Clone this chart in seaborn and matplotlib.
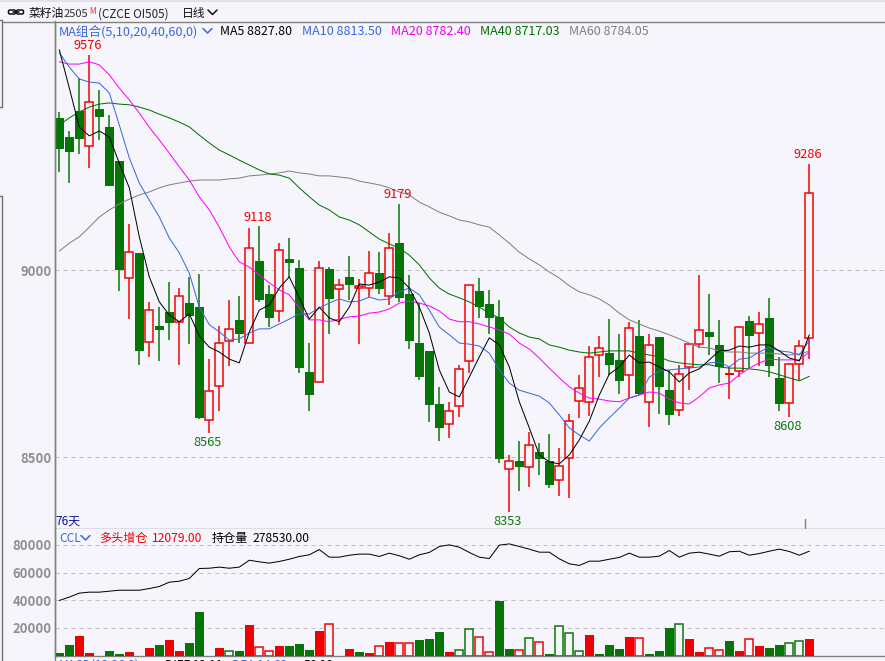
import numpy as np
import pandas as pd
import matplotlib
matplotlib.use("Agg")
import matplotlib.pyplot as plt
from matplotlib.patches import FancyBboxPatch
import seaborn as sns

opens = [9408,9357,9426,9333,9432,9383,9292,8980,9047,8809,8852,8889,8863,8913,8902,8600,8691,8812,8868,8806,
         9026,8937,8892,9031,9007,8729,8702,9004,8951,8983,8953,8953,8993,8932,9073,8937,8806,8784,8643,8589,
         8638,8758,8945,8910,8876,8469,8491,8475,8515,8491,8440,8499,8651,8649,8774,8780,8761,8721,8825,8649,
         8822,8680,8627,8742,8803,8836,8801,8721,8731,8865,8833,8873,8713,8646,8750,8820]
highs = [9424,9373,9515,9576,9483,9416,9292,9124,9047,8916,8902,8969,8953,8983,8990,8764,8852,8921,8932,9113,
         9118,8962,9073,9087,9028,8806,9025,9009,8977,9039,8977,9052,9049,9100,9179,8988,8913,8784,8689,8648,
         8748,8961,8980,8948,8921,8507,8544,8568,8539,8563,8525,8616,8721,8798,8825,8870,8830,8863,8868,8830,
         8822,8734,8748,8803,8988,8937,8868,8742,8852,8878,8889,8926,8769,8750,8814,9286]
lows = [9264,9234,9311,9274,9349,9226,8945,8870,8748,8769,8758,8814,8748,8803,8603,8565,8624,8745,8806,8806,
        8916,8849,8863,8983,8726,8624,8702,8830,8855,8921,8803,8929,8937,8908,8916,8790,8707,8595,8544,8552,
        8608,8726,8873,8830,8485,8353,8410,8421,8453,8419,8397,8392,8606,8611,8716,8721,8670,8659,8667,8582,
        8616,8587,8611,8680,8793,8774,8699,8656,8715,8739,8745,8715,8624,8608,8707,8763]
closes = [9325,9317,9352,9451,9410,9226,9001,9049,8784,8894,8841,8860,8932,8878,8606,8678,8806,8844,8830,9060,
          8921,8873,9055,9020,8739,8667,9007,8924,8961,8961,8959,8993,8951,9060,8927,8812,8715,8640,8579,8624,
          8737,8961,8902,8873,8496,8491,8475,8533,8496,8427,8477,8597,8686,8769,8793,8748,8705,8846,8670,8801,
          8689,8614,8723,8803,8841,8822,8742,8726,8849,8825,8857,8745,8643,8750,8798,9207]

ma5 = [9590,9488,9383,9360,9373,9357,9287,9221,9090,8983,8916,8881,8863,8884,8825,8795,8782,8763,8753,8836,
       8894,8908,8953,8983,8927,8870,8902,8873,8863,8902,8964,8961,8969,8983,8980,8953,8902,8833,8734,8675,
       8662,8715,8769,8820,8801,8742,8649,8579,8507,8488,8483,8507,8547,8597,8667,8723,8742,8774,8753,8755,
       8742,8729,8702,8726,8737,8761,8785,8787,8798,8795,8801,8801,8785,8766,8758,8828]
ma10 = [9582,9544,9512,9504,9501,9475,9389,9301,9234,9188,9143,9087,9047,8993,8902,8855,8836,8814,8817,8833,
        8844,8844,8857,8870,8884,8884,8900,8913,8924,8916,8918,8929,8921,8924,8943,8953,8935,8894,8849,8828,
        8806,8803,8798,8779,8734,8699,8680,8672,8664,8646,8614,8579,8560,8544,8579,8606,8632,8659,8667,8715,
        8731,8734,8737,8739,8742,8753,8755,8742,8763,8766,8782,8795,8785,8782,8774,8813]
ma20 = [9558,9552,9552,9558,9550,9523,9488,9456,9421,9383,9349,9314,9277,9242,9197,9162,9116,9063,9023,9009,
        8988,8967,8948,8935,8900,8868,8868,8863,8870,8876,8878,8886,8889,8897,8913,8918,8913,8905,8892,8870,
        8863,8863,8857,8849,8841,8830,8806,8790,8766,8739,8713,8689,8672,8659,8656,8651,8649,8659,8667,8675,
        8672,8656,8646,8643,8662,8686,8694,8699,8721,8739,8753,8763,8761,8761,8761,8782]
ma40 = [9389,9408,9424,9437,9445,9448,9445,9443,9437,9429,9418,9408,9397,9384,9362,9341,9322,9309,9295,9282,
        9269,9258,9255,9247,9221,9197,9175,9162,9143,9135,9122,9103,9084,9071,9060,9041,9015,8980,8953,8937,
        8927,8916,8902,8886,8873,8849,8833,8822,8817,8801,8795,8787,8782,8779,8782,8785,8785,8785,8779,8774,
        8769,8758,8753,8750,8748,8748,8742,8739,8739,8737,8734,8729,8721,8713,8705,8717]
ma60 = [9052,9073,9090,9116,9143,9162,9178,9191,9202,9210,9221,9229,9234,9239,9242,9242,9242,9245,9247,9253,
        9255,9258,9261,9266,9261,9258,9253,9253,9250,9247,9239,9234,9229,9221,9210,9202,9183,9170,9156,9146,
        9135,9130,9122,9116,9095,9073,9049,9031,9015,8996,8980,8959,8943,8935,8924,8908,8886,8868,8857,8846,
        8838,8828,8817,8806,8795,8793,8785,8782,8782,8779,8779,8779,8777,8774,8777,8784]

ccl = [39800,42200,45100,45800,45800,46500,47200,47200,47200,48400,49900,53000,53700,55700,62900,63100,63900,63100,63900,68900,
       67700,66800,68000,69600,71600,72800,76600,71100,71100,72500,73300,73300,71600,74000,72100,69600,72800,74500,78800,80000,
       78300,74500,71100,70100,79800,80700,78800,76900,74700,74700,69900,66300,65100,68200,68200,69600,70900,74000,71100,71100,
       71800,75900,71100,74000,74700,73300,71800,75000,75400,72500,73700,75400,76900,75200,72500,75400]
vol = [1700,7500,14000,1700,0,3100,1000,2400,0,5300,7500,11100,3100,8900,31300,0,5300,2900,3100,21900,
       6500,2900,6700,6700,8200,3900,17600,23100,0,4600,2400,1700,7200,9600,8700,8700,11100,11800,16900,2400,
       4300,18800,13700,2200,39300,4600,4300,12300,9400,1000,21000,16600,2900,14700,1000,7500,4600,13300,12300,1000,
       3100,19800,23100,11800,2400,5100,4300,10400,3100,11600,6700,5300,7500,8700,10800,12079]
vol_kind = list("GGRRGGGRGRGRRGGGRgGR" "rrRGGGRrGRGRrRrrGGGR" "ggrrGGrgrGggg" "RGGGRrGGGgRRrrGRrRGGggR")

price_ticks = [8500, 9000]
price_labels = ["8500", "9000"]
ccl_ticks = [20000, 40000, 60000, 80000]
ccl_labels = ["20000", "40000", "60000", "80000"]
extreme_days = [3, 20, 34, 15, 45, 73, 75]
extreme_kinds = ["high", "high", "high", "low", "low", "low", "high"]
extreme_texts = ["9576", "9118", "9179", "8565", "8353", "8608", "9286"]

BG = "#F5F5FB"
RED = "#F00000"
GREEN = "#057505"
BLUE = "#3A67E0"
MAGENTA = "#FF00FF"
MA40C = "#007000"
GRAY = "#808080"
AXC = "#808080"
W, H = 885, 661
PX = 0.72

sns.set_theme(style="white")
plt.rcParams["font.family"] = ["Noto Sans CJK SC", "DejaVu Sans"]
plt.rcParams["axes.unicode_minus"] = False

fig = plt.figure(figsize=(W / 100, H / 100), dpi=100, facecolor=BG)


def pane(top, bottom):
    return fig.add_axes([54.5 / W, 1 - bottom / H, (W - 54.5) / W, (bottom - top) / H], facecolor=BG)


ax = pane(21.5, 528.5)
ax2 = pane(528.5, 655.5)
days = np.arange(len(closes))
XLIM = ((54.5 - 59.3) / 10, (W - 59.3) / 10)

# ---- candles
for i in days:
    o, h, l, c = opens[i], highs[i], lows[i], closes[i]
    up = c >= o
    col = RED if up else GREEN
    top, bot = max(o, c), min(o, c)
    ax.vlines(i, bot, h, color=col, lw=PX * 1.5, zorder=2)
    ax.vlines(i, l, top, color=col, lw=PX * 1.5, zorder=2)
    if up and top - bot > 5:
        ax.bar(i, top - bot, bottom=bot, width=0.8, facecolor=BG, edgecolor=col, lw=PX * 1.5, zorder=3)
    else:
        ax.bar(i, max(top - bot, 3), bottom=bot, width=0.88, facecolor=col, edgecolor=col, lw=0, zorder=3)

# ---- moving averages
ma_df = pd.DataFrame({"day": days, "MA60": ma60, "MA40": ma40, "MA20": ma20, "MA10": ma10, "MA5": ma5})
for name, col in [("MA60", GRAY), ("MA40", MA40C), ("MA20", MAGENTA), ("MA10", BLUE), ("MA5", "#000000")]:
    sns.lineplot(data=ma_df, x="day", y=name, color=col, lw=PX, ax=ax, zorder=4, legend=False)

ax.set_xlim(*XLIM)
ax.set_ylim(9723.3 - 2.674 * 528.5, 9723.3 - 2.674 * 21.5)
ax.set_yticks(price_ticks, price_labels)
ax.set_xticks([])
ax.set_xlabel("")
ax.set_ylabel("")
for yv in price_ticks:
    ax.axhline(yv, color="#C0C0C0", lw=PX, dashes=(4, 4), zorder=1)

for d, kind, txt in zip(extreme_days, extreme_kinds, extreme_texts):
    if kind == "high":
        ax.annotate(txt, (d, highs[d]), xytext=(-1, 2), textcoords="offset points", ha="center", va="bottom",
                    color="#F00000", fontsize=9.2, zorder=6)
    else:
        ax.annotate(txt, (d, lows[d]), xytext=(-1, -2), textcoords="offset points", ha="center", va="top",
                    color="#0A7A0A", fontsize=9.2, zorder=6)

# ---- lower pane: open-interest bars and line
vol_df = pd.DataFrame({"day": days, "vol": vol})
sns.barplot(data=vol_df, x="day", y="vol", native_scale=True, width=0.88, color=GREEN, errorbar=None,
            ax=ax2, zorder=3)
for p, k in zip(ax2.patches, vol_kind):
    col = RED if k in "Rr" else GREEN
    if k in "rg":
        x0, w = p.get_x(), p.get_width()
        p.set_x(x0 + 0.04)
        p.set_width(w - 0.08)
        p.set_facecolor(BG)
        p.set_edgecolor(col)
        p.set_linewidth(PX * 1.5)
    else:
        p.set_facecolor(col)
        p.set_edgecolor(col)
        p.set_linewidth(0)
sns.lineplot(x=days, y=ccl, color="#000000", lw=PX, ax=ax2, zorder=4, legend=False)
ax2.set_xlim(*XLIM)
ax2.set_ylim(0, 127 * 723)
ax2.set_yticks(ccl_ticks, ccl_labels)
ax2.set_xticks([])
ax2.set_xlabel("")
ax2.set_ylabel("")
for yv in ccl_ticks:
    ax2.axhline(yv, color="#C0C0C0", lw=PX, dashes=(4, 4), zorder=1)

for a in (ax, ax2):
    a.tick_params(axis="y", length=0, pad=2, labelsize=9.4, labelcolor="#909090")
    for lab in a.get_yticklabels():
        lab.set_fontweight("bold")
    for s in ("top", "right"):
        a.spines[s].set_visible(False)
    a.spines["left"].set_color(AXC)
    a.spines["left"].set_linewidth(1.0)
    a.spines["bottom"].set_color(AXC)
    a.spines["bottom"].set_linewidth(1.0)

# ---- window chrome in pixel space
ui = fig.add_axes([0, 0, 1, 1], facecolor="none")
ui.set_xlim(0, W)
ui.set_ylim(H, 0)
ui.axis("off")
ui.set_zorder(10)

ui.fill_between([0, W], 0, 2, color="#E2E2E6", lw=0)
ui.plot([3, W], [21.5, 21.5], color=AXC, lw=1.0)
ui.plot([54.5, 54.5], [21.5, H], color=AXC, lw=1.0)
ui.plot([1.5, 1.5], [20, 107], color="#707070", lw=1.0)
ui.plot([1.5, 1.5], [196, H], color="#707070", lw=1.0)
ui.plot([0, 1.5], [20, 20], color="#707070", lw=1.0)
ui.plot([0, 1.5], [107, 107], color="#707070", lw=1.0)
ui.plot([0, 1.5], [196, 196], color="#707070", lw=1.0)
ui.plot([804.5, 804.5], [519, 528], color=AXC, lw=1.0)

for bx in (8.5, 16.5):
    ui.add_patch(FancyBboxPatch((bx, 10), 7, 4, boxstyle="round,pad=0,rounding_size=1.5",
                                fc="none", ec="#111111", lw=1.1))
ui.plot([13, 19], [12, 12], color="#111111", lw=1.1)


def label(x, y, s, color="#000000", size=8.7, **kw):
    ui.text(x, y, s, color=color, fontsize=size, ha="left", va="center_baseline", **kw)


def chevron(x, y, color, w=9, h=4.5):
    ui.plot([x, x + w / 2, x + w], [y, y + h, y], color=color, lw=1.1)


label(28.5, 12.5, "菜籽油", "#111111", 8.5)
label(64, 13, "2505", "#333333", 8.0)
label(89, 10, "M", "#F03030", 5.8)
label(98, 12.5, "(CZCE OI505)", "#222222", 8.4)
label(182, 12.5, "日线", "#111111", 8.5)
chevron(208, 10, "#111111")

label(59, 30, "MA组合(5,10,20,40,60,0)", BLUE, 9.1)
chevron(203, 28.5, BLUE)
label(220, 30, "MA5 8827.80", "#000000", 8.9)
label(302, 30, "MA10 8813.50", BLUE, 9.0)
label(391, 30, "MA20 8782.40", "#F000F0", 9.0)
label(480, 30, "MA40 8717.03", "#007000", 9.0)
label(569, 30, "MA60 8784.05", "#808080", 9.0)

label(55, 520, "76天", "#1010A0", 8.6)
label(59, 537, "CCL", BLUE, 8.6)
chevron(81, 535.5, BLUE)
label(99, 537, "多头增仓", "#F00000", 8.7)
label(152, 537, "12079.00", "#F00000", 8.7)
label(212, 537, "持仓量", "#000000", 8.7)
label(252, 537, "278530.00", "#000000", 8.7)

label(59, 664, "MACD(12,26,9)", BLUE, 8.6)
label(165, 664, "DIFF 12.11", "#000000", 8.6)
label(232, 664, "DEA 14.63", BLUE, 8.6)
label(304, 664, "56.98", "#000000", 8.6)

fig.savefig("out.png", dpi=100, facecolor=BG)
